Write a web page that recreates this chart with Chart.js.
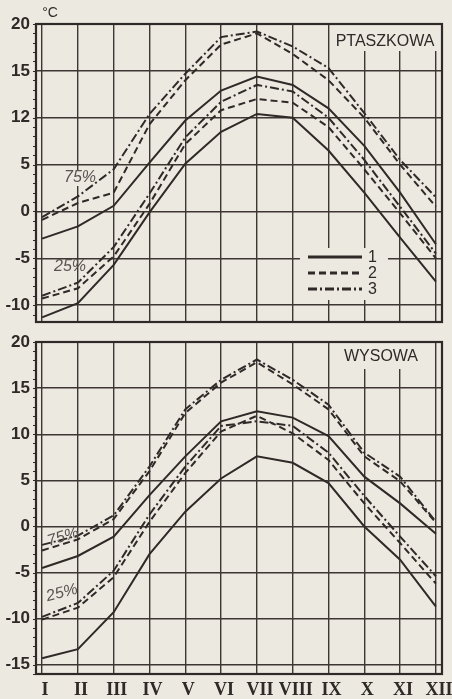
<!DOCTYPE html>
<html lang="pl">
<head>
<meta charset="UTF-8">
<title>Ptaszkowa i Wysowa – temperatura powietrza</title>
<style>
  html, body { margin: 0; padding: 0; background: #ecE9e1; }
  #page { position: relative; width: 452px; height: 699px; overflow: hidden; }
  #topChart { position: absolute; left: 0; top: 0; }
  #bottomChart { position: absolute; left: 0; top: 330px; }
</style>
<script src="https://cdn.jsdelivr.net/npm/chart.js"></script>
</head>
<body>
<div id="page">
  <canvas id="topChart" width="452" height="330"></canvas>
  <canvas id="bottomChart" width="452" height="369"></canvas>
</div>
<script>
const monthNumbers = [1, 2, 3, 4, 5, 6, 7, 8, 9, 10, 11, 12];
const monthLabels = ['I', 'II', 'III', 'IV', 'V', 'VI', 'VII', 'VIII', 'IX', 'X', 'XI', 'XII'];

// PTASZKOWA: curves 1, 2, 3 (upper = 75%, lower = 25%)
const ptaszkowa1Upper = [-2.9, -1.6, 0.6, 5.2, 9.7, 12.9, 14.4, 13.5, 11.0, 7.0, 2.0, -3.5];
const ptaszkowa1Lower = [-11.3, -9.8, -5.7, -0.1, 5.1, 8.5, 10.4, 10.0, 6.5, 2.0, -2.8, -7.5];
const ptaszkowa2Upper = [-0.9, 0.9, 2.0, 9.3, 14.0, 17.8, 19.0, 16.8, 14.0, 10.0, 5.0, 0.5];
const ptaszkowa2Lower = [-9.3, -8.2, -4.8, 0.8, 7.2, 10.8, 12.0, 11.6, 9.0, 4.5, -0.2, -5.0];
const ptaszkowa3Upper = [-0.6, 1.6, 4.5, 10.4, 14.7, 18.6, 19.2, 17.6, 15.3, 10.5, 5.5, 1.5];
const ptaszkowa3Lower = [-9.0, -7.6, -3.8, 1.9, 7.9, 11.7, 13.5, 12.8, 10.0, 5.5, 0.5, -4.5];

// WYSOWA
const wysowa1Upper = [-4.5, -3.2, -1.1, 3.4, 7.6, 11.4, 12.5, 11.8, 9.8, 5.4, 2.5, -0.8];
const wysowa1Lower = [-14.3, -13.3, -9.3, -3.0, 1.6, 5.2, 7.6, 6.9, 4.7, 0.0, -3.6, -8.7];
const wysowa2Upper = [-2.6, -1.4, 0.8, 6.0, 12.3, 15.6, 17.8, 15.4, 12.7, 7.6, 4.9, 0.4];
const wysowa2Lower = [-10.1, -8.8, -5.5, 0.5, 5.8, 10.3, 12.0, 10.1, 7.2, 2.5, -1.8, -6.2];
const wysowa3Upper = [-2.0, -1.0, 1.2, 6.5, 12.7, 15.9, 18.1, 15.9, 13.2, 8.0, 5.4, 0.5];
const wysowa3Lower = [-9.8, -8.3, -4.8, 1.3, 6.5, 10.9, 11.4, 10.9, 8.0, 3.3, -1.1, -5.4];

const ptaszkowaTicks = [20, 15, 10, 5, 0, -5, -10];
const ptaszkowaTickLabels = ['20', '15', '12', '5', '0', '-5', '-10'];
const wysowaTicks = [20, 15, 10, 5, 0, -5, -10, -15];
const wysowaTickLabels = ['20', '15', '10', '5', '0', '-5', '-10', '-15'];
const legendLabels = ['1', '2', '3'];

const INK = '#2f2927';
const GRID = '#3d3633';
const PAPER = '#ecE9e1';
const dashes = [[], [7, 4], [9, 3, 2, 3]];

function line(values, style) {
    return {
        data: monthNumbers.map((m, i) => ({ x: m, y: values[i] })),
        borderColor: INK,
        borderWidth: 2,
        borderDash: dashes[style],
        pointRadius: 0,
        tension: 0,
        fill: false
    };
}

function makeScales(yMin, tickValues, tickLabels, showMonths) {
    return {
        x: {
            type: 'linear',
            min: 0.83,
            max: 12.17,
            afterBuildTicks: s => { s.ticks = monthNumbers.map(v => ({ value: v })); },
            afterFit: s => { s.height = showMonths ? 25 : 0; s.paddingLeft = 0; s.paddingRight = 0; },
            grid: { color: GRID, lineWidth: 1.4, drawTicks: false },
            border: { display: false },
            ticks: {
                display: showMonths,
                autoSkip: false,
                maxRotation: 0,
                padding: 6,
                labelOffset: 3,
                color: INK,
                font: { family: 'Liberation Serif', size: 18, weight: 'bold' },
                callback: v => monthLabels[monthNumbers.indexOf(v)]
            }
        },
        y: {
            min: yMin,
            max: 20,
            afterBuildTicks: s => { s.ticks = tickValues.map(v => ({ value: v })); },
            afterFit: s => { s.width = 36; s.paddingTop = 0; s.paddingBottom = 0; },
            grid: { color: GRID, lineWidth: 1.4, drawTicks: false },
            border: { display: false },
            ticks: {
                padding: 6,
                color: INK,
                font: { family: 'Liberation Sans', size: 17, weight: 'bold' },
                callback: v => tickLabels[tickValues.indexOf(v)]
            }
        }
    };
}

// frame, station name, percent labels, legend
const decor = {
    id: 'decor',
    beforeDatasetsDraw(chart, args, opts) {
        const ctx = chart.ctx;
        ctx.save();
        ctx.fillStyle = PAPER;
        (opts.boxes || []).forEach(b => ctx.fillRect(b[0], b[1], b[2], b[3]));
        ctx.restore();
    },
    afterDatasetsDraw(chart, args, opts) {
        const ctx = chart.ctx;
        const a = chart.chartArea;
        const y = chart.scales.y;
        ctx.save();
        ctx.strokeStyle = INK;
        ctx.lineWidth = 2.2;
        ctx.strokeRect(a.left, a.top, a.right - a.left, a.bottom - a.top);

        // small ticks on the left edge
        ctx.lineWidth = 1;
        for (let v = Math.ceil(y.min); v <= y.max; v++) {
            const py = Math.round(y.getPixelForValue(v)) + 0.5;
            ctx.beginPath();
            ctx.moveTo(a.left - 3, py);
            ctx.lineTo(a.left, py);
            ctx.stroke();
        }

        (opts.texts || []).forEach(t => {
            ctx.save();
            ctx.translate(t.x, t.y);
            if (t.rotate) ctx.rotate(t.rotate);
            ctx.font = t.font;
            ctx.fillStyle = t.color || INK;
            ctx.textAlign = 'center';
            ctx.textBaseline = 'middle';
            ctx.fillText(t.text, 0, 0);
            ctx.restore();
        });

        if (opts.legend) {
            const L = opts.legend;
            legendLabels.forEach((lab, i) => {
                const ly = L.y + i * L.gap;
                ctx.setLineDash(dashes[i]);
                ctx.lineWidth = 3;
                ctx.beginPath();
                ctx.moveTo(L.x, ly);
                ctx.lineTo(L.x + L.len, ly);
                ctx.stroke();
                ctx.setLineDash([]);
                ctx.font = '16px "Liberation Sans"';
                ctx.fillStyle = INK;
                ctx.textAlign = 'left';
                ctx.textBaseline = 'middle';
                ctx.fillText(lab, L.x + L.len + 6, ly + 1);
            });
        }
        ctx.restore();
    }
};

Chart.defaults.animation = false;

new Chart(document.getElementById('topChart'), {
    type: 'line',
    data: {
        datasets: [
            line(ptaszkowa1Upper, 0), line(ptaszkowa1Lower, 0),
            line(ptaszkowa2Upper, 1), line(ptaszkowa2Lower, 1),
            line(ptaszkowa3Upper, 2), line(ptaszkowa3Lower, 2)
        ]
    },
    options: {
        responsive: false,
        layout: { padding: { top: 24, right: 10, bottom: 8, left: 0 } },
        scales: makeScales(-11.8, ptaszkowaTicks, ptaszkowaTickLabels, false),
        plugins: {
            legend: { display: false },
            tooltip: { enabled: false },
            decor: {
                boxes: [[331, 25, 106, 26], [300, 248, 88, 52], [62, 170, 36, 16]],
                texts: [
                    { text: '°C', x: 50, y: 13, font: '14px "Liberation Sans"' },
                    { text: 'PTASZKOWA', x: 385, y: 42, font: '16px "Liberation Sans"' },
                    { text: '75%', x: 80, y: 178, font: 'italic 16px "Liberation Sans"', color: '#5a5350' },
                    { text: '25%', x: 70, y: 267, font: 'italic 16px "Liberation Sans"', color: '#5a5350' }
                ],
                legend: { x: 308, y: 257, gap: 16, len: 54 }
            }
        }
    },
    plugins: [decor]
});

new Chart(document.getElementById('bottomChart'), {
    type: 'line',
    data: {
        datasets: [
            line(wysowa1Upper, 0), line(wysowa1Lower, 0),
            line(wysowa2Upper, 1), line(wysowa2Lower, 1),
            line(wysowa3Upper, 2), line(wysowa3Lower, 2)
        ]
    },
    options: {
        responsive: false,
        layout: { padding: { top: 12, right: 10, bottom: 0, left: 0 } },
        scales: makeScales(-16, wysowaTicks, wysowaTickLabels, true),
        plugins: {
            legend: { display: false },
            tooltip: { enabled: false },
            decor: {
                boxes: [[340, 13, 88, 26]],
                texts: [
                    { text: 'WYSOWA', x: 381, y: 27, font: '16px "Liberation Sans"' },
                    { text: '75%', x: 63, y: 207, font: 'italic 16px "Liberation Sans"', color: '#5a5350', rotate: -0.3 },
                    { text: '25%', x: 62, y: 263, font: 'italic 16px "Liberation Sans"', color: '#5a5350', rotate: -0.25 }
                ]
            }
        }
    },
    plugins: [decor]
});
</script>
</body>
</html>
